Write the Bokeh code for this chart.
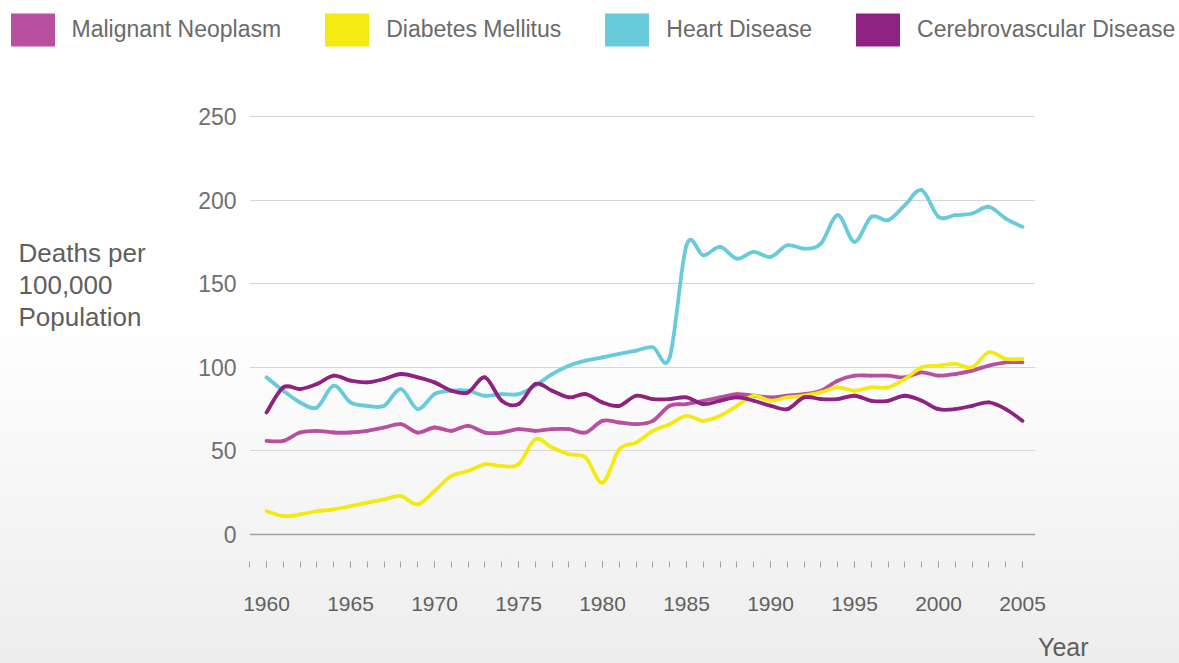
import numpy as np
from bokeh.plotting import figure
from bokeh.layouts import column, row
from bokeh.models import (Legend, LegendItem, Label, SingleIntervalTicker,
                          FixedTicker, Span, Range1d)
from bokeh.embed import file_html
from bokeh.resources import INLINE

# ---------------- data ----------------
years = list(range(1960, 2006))

malignant = [56, 56, 61, 62, 61, 61, 62, 64, 66, 61,
             64, 62, 65, 61, 61, 63, 62, 63, 63, 61,
             68, 67, 66, 68, 77, 78, 80, 82, 84, 83,
             82, 83, 84, 86, 92, 95, 95, 95, 94, 97,
             95, 96, 98, 101, 103, 103]

diabetes = [14, 11, 12, 14, 15, 17, 19, 21, 23, 18,
            26, 35, 38, 42, 41, 42, 57, 52, 48, 46,
            31, 51, 55, 62, 66, 71, 68, 71, 77, 83,
            80, 82, 83, 85, 88, 86, 88, 88, 93, 100,
            101, 102, 100, 109, 105, 105]

heart = [94, 86, 79, 76, 89, 79, 77, 77, 87, 75,
         84, 86, 86, 83, 84, 84, 89, 96, 101, 104,
         106, 108, 110, 112, 106, 173, 167, 172, 165, 169,
         166, 173, 171, 174, 191, 175, 190, 188, 197, 206,
         190, 191, 192, 196, 189, 184]

cerebro = [73, 88, 87, 90, 95, 92, 91, 93, 96, 94,
           91, 86, 85, 94, 80, 78, 90, 86, 82, 84,
           79, 77, 83, 81, 81, 82, 78, 80, 82, 80,
           77, 75, 82, 81, 81, 83, 80, 80, 83, 80,
           75, 75, 77, 79, 75, 68]

series_names = ["Malignant Neoplasm", "Diabetes Mellitus",
                "Heart Disease", "Cerebrovascular Disease"]
series_values = [malignant, diabetes, heart, cerebro]
series_colors = ["#b94f9f", "#f4ea12", "#69cadc", "#8d2280"]

y_ticks = [0, 50, 100, 150, 200, 250]

FONT = "Liberation Sans"


def bare(fig):
    fig.outline_line_color = None
    fig.border_fill_color = None
    fig.background_fill_color = None
    fig.grid.grid_line_color = None


# ---------------- header figure with the legend ----------------
header = figure(width=1179, height=68, output_backend="svg", toolbar_location=None,
                x_axis_type=None, y_axis_type=None,
                x_range=Range1d(0, 1), y_range=Range1d(0, 1),
                min_border=0, min_border_left=0, min_border_right=0,
                min_border_top=0, min_border_bottom=0)
bare(header)
items = []
for name, col in zip(series_names, series_colors):
    # zero-area placeholder glyph: only its legend swatch is visible
    r = header.quad(left=[0], right=[0], top=[0], bottom=[0],
                    fill_color=col, line_color=None)
    items.append(LegendItem(label=name, renderers=[r]))
legend = Legend(items=items, orientation="horizontal", location=(4.5, 18.5),
                glyph_width=55, glyph_height=41, label_standoff=12, spacing=38,
                padding=0, margin=0, border_line_color=None,
                background_fill_color=None,
                label_text_font=FONT, label_text_font_size="23px",
                label_text_color="#6a6a6a", label_text_baseline="middle")
header.add_layout(legend, "center")

# ---------------- left figure with the y-axis title ----------------
left = figure(width=160, height=595, output_backend="svg", toolbar_location=None,
              x_axis_type=None, y_axis_type=None,
              min_border=0, min_border_left=0, min_border_right=0,
              min_border_top=0, min_border_bottom=0)
bare(left)
left.add_layout(Label(x=18, y=324, x_units="screen", y_units="screen",
                      text="Deaths per\n100,000\nPopulation", text_font=FONT,
                      text_font_size="26px", text_color="#5e5e5e",
                      text_baseline="top", text_align="left", text_line_height=1.08))

# ---------------- main chart ----------------
p = figure(width=1019, height=595, output_backend="svg", toolbar_location=None,
           x_range=Range1d(1958.988, 2005.774), y_range=Range1d(-16.15, 259.6),
           min_border_left=89, min_border_right=144,
           min_border_top=32, min_border_bottom=102)
p.outline_line_color = None
p.border_fill_color = None
p.background_fill_color = None

# y axis
p.yaxis.ticker = FixedTicker(ticks=y_ticks)
p.yaxis.axis_line_color = None
p.yaxis.major_tick_line_color = None
p.yaxis.major_tick_out = 0
p.yaxis.major_tick_in = 0
p.yaxis.minor_tick_line_color = None
p.yaxis.minor_tick_out = 0
p.yaxis.major_label_standoff = 13
p.yaxis.major_label_text_font = FONT
p.yaxis.major_label_text_font_size = "23px"
p.yaxis.major_label_text_color = "#707070"

p.ygrid.ticker = FixedTicker(ticks=y_ticks[1:])
p.ygrid.grid_line_color = "#d6d6d6"
p.ygrid.grid_line_width = 1.2
p.xgrid.grid_line_color = None
p.add_layout(Span(location=0, dimension="width", line_color="#a0a0a0", line_width=1.6))

# x axis
xa = p.xaxis[0]
xa.ticker = SingleIntervalTicker(interval=5, num_minor_ticks=5)
xa.axis_line_color = None
xa.major_tick_in = 0
xa.major_tick_out = 6
xa.minor_tick_in = 0
xa.minor_tick_out = 6
xa.major_tick_line_color = "#a0a0a0"
xa.minor_tick_line_color = "#a0a0a0"
xa.major_label_standoff = 29
xa.major_label_text_font = FONT
xa.major_label_text_font_size = "21px"
xa.major_label_text_color = "#606060"

# "Year" sits just right of the axis end: no-break spaces push the centred label over
xa.axis_label = "\u00a0" * 8 + "Year"
xa.axis_label_standoff = 19
xa.axis_label_text_font = FONT
xa.axis_label_text_font_size = "25px"
xa.axis_label_text_font_style = "normal"
xa.axis_label_text_color = "#5e5e5e"
for align_value in ("end", "right"):
    try:
        xa.axis_label_align = align_value
        break
    except Exception:
        pass

# smooth lines: cubic Bezier segments through the data points
xs = np.array(years, dtype=float)
for vals, col in zip(series_values, series_colors):
    ys = np.array(vals, dtype=float)
    xp = np.concatenate([[xs[0]], xs, [xs[-1]]])
    yp = np.concatenate([[ys[0]], ys, [ys[-1]]])
    n = len(xs)
    x0 = xs[:-1]; y0 = ys[:-1]; x1 = xs[1:]; y1 = ys[1:]
    cx0 = x0 + (xp[2:n + 1] - xp[0:n - 1]) / 6.0
    cy0 = y0 + (yp[2:n + 1] - yp[0:n - 1]) / 6.0
    cx1 = x1 - (xp[3:n + 2] - xp[1:n]) / 6.0
    cy1 = y1 - (yp[3:n + 2] - yp[1:n]) / 6.0
    p.bezier(x0=x0, y0=y0, x1=x1, y1=y1, cx0=cx0, cy0=cy0, cx1=cx1, cy1=cy1,
             line_color=col, line_width=3.8, line_cap="round")

layout = column(header, row(left, p, spacing=0), spacing=0)
layout.styles = {"background": "linear-gradient(to bottom, #ffffff 0%, #ffffff 48%, #ededed 100%)"}

open("out.html", "w").write(file_html(layout, INLINE))
